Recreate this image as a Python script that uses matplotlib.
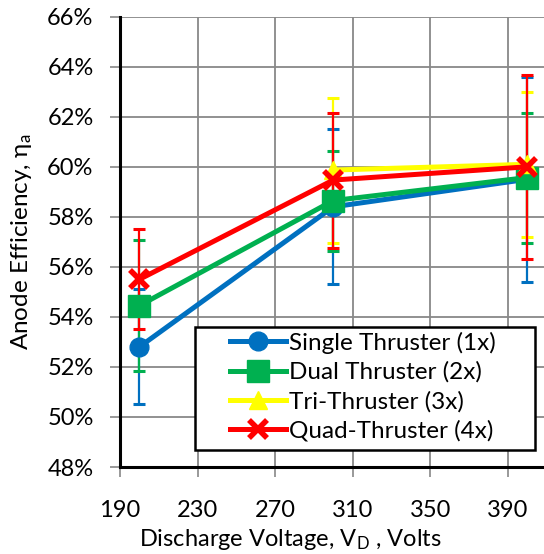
import numpy as np
import matplotlib
matplotlib.use('Agg')
import matplotlib.pyplot as plt
from matplotlib.patches import Rectangle
from matplotlib.ticker import PercentFormatter

# data
voltage = [200, 300, 400]

single_eff = [52.8, 58.4, 59.5]
single_err = [2.3, 3.1, 4.1]
dual_eff = [54.45, 58.65, 59.57]
dual_err = [2.63, 2.0, 2.6]
tri_eff = [np.nan, 59.87, 60.1]
tri_err = [np.nan, 2.9, 2.9]
quad_eff = [55.5, 59.47, 60.0]
quad_err = [2.0, 2.7, 3.68]

series = [
	('Single Thruster (1x)', single_eff, single_err, '#0070C0', 'o', 13.5),
	('Dual Thruster (2x)', dual_eff, dual_err, '#00B050', 's', 16),
	('Tri-Thruster (3x)', tri_eff, tri_err, '#FFFF00', '^', 13),
	('Quad-Thruster (4x)', quad_eff, quad_err, '#FF0000', 'x', 13),
]

plt.rcParams['font.family'] = ['Lato', 'DejaVu Sans']
plt.rcParams['mathtext.default'] = 'regular'

fig = plt.figure(figsize=(5.44, 5.54), dpi=100)
ax = fig.add_axes([120 / 544, 87 / 554, 426.5 / 544, 450.3 / 554])

for name, eff, err, col, mk, ms in series:
	ax.errorbar(voltage, eff, yerr=err, fmt='none', ecolor=col,
				elinewidth=1.6, capsize=4.3, capthick=2.2, zorder=3)
for name, eff, err, col, mk, ms in series:
	ax.plot(voltage, eff, color=col, lw=3.6, marker=mk, ms=ms,
			mec=col, mfc=col, mew=4 if mk == 'x' else 1, label=name, zorder=4)

ax.set_xlim(190, 410)
ax.set_ylim(48, 66)
ax.set_xticks(range(190, 410, 40))
ax.set_yticks(range(48, 67, 2))
ax.yaxis.set_major_formatter(PercentFormatter(decimals=0))
ax.grid(True, color='#888888', lw=1.3)
ax.set_axisbelow(True)
for s in ['top', 'right']:
	ax.spines[s].set_visible(False)
for s in ['left', 'bottom']:
	ax.spines[s].set_linewidth(2.2)
	ax.spines[s].set_zorder(5)
ax.tick_params(length=7, width=1.2, color='#888888', labelsize=17)
ax.tick_params(axis='x', pad=17)
ax.tick_params(axis='y', pad=12)

ax.set_xlabel('Discharge Voltage, V$_D$ , Volts', fontsize=17)
ax.xaxis.set_label_coords(0.399, -0.133)
ax.set_ylabel('Anode Efficiency, η$_a$', fontsize=17.5, va='center')
ax.yaxis.set_label_coords(-0.232, 0.5)

# legend box drawn by hand so the padding matches
box = Rectangle((0.176, 0.038), 0.797, 0.273, transform=ax.transAxes,
				facecolor='white', edgecolor='black', lw=1.8, zorder=6)
ax.add_patch(box)
leg = ax.legend(loc='upper left', bbox_to_anchor=(0.258, 0.3005), borderaxespad=0,
				fontsize=17.5, frameon=False, handlelength=2.3, handletextpad=0.12,
				labelspacing=0.32, borderpad=0)
leg.set_zorder(7)

fig.savefig('out.png', dpi=100)
